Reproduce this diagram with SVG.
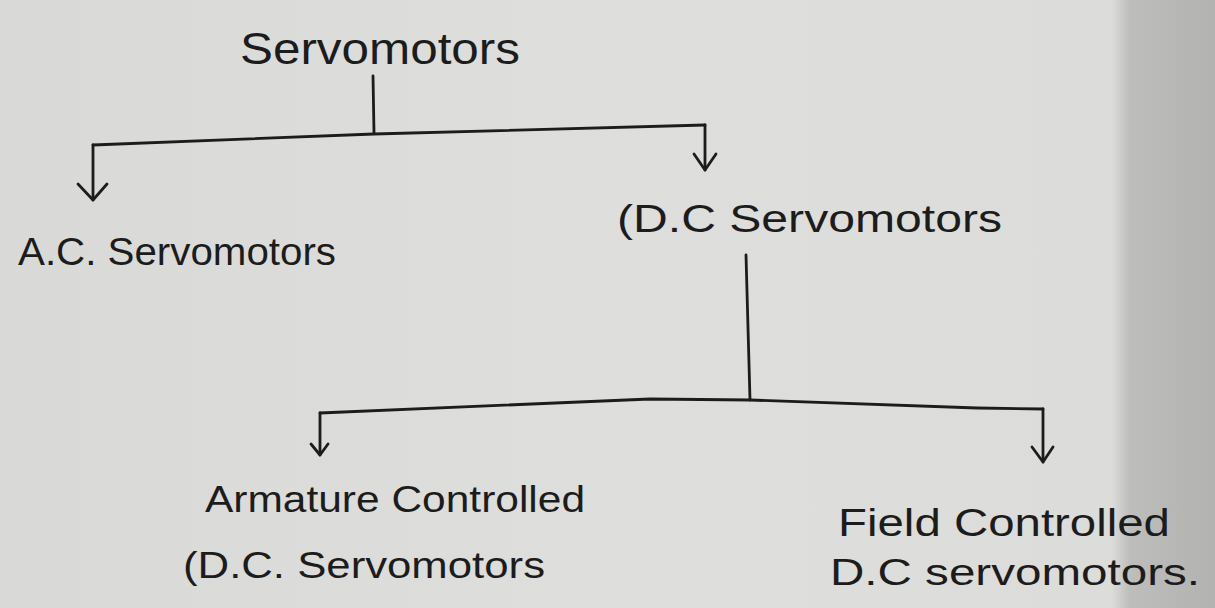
<svg xmlns="http://www.w3.org/2000/svg" width="1215" height="608" viewBox="0 0 1215 608">
<defs>
<linearGradient id="paper" x1="0" y1="0" x2="1" y2="0">
<stop offset="0" stop-color="#d9d9d7"/>
<stop offset="0.5" stop-color="#dededc"/>
<stop offset="0.915" stop-color="#dcdcda"/>
<stop offset="0.93" stop-color="#bdbdbb"/>
<stop offset="1" stop-color="#b2b2b0"/>
</linearGradient>
<marker id="arr" viewBox="0 0 20 20" refX="10" refY="18" markerWidth="20" markerHeight="20" markerUnits="userSpaceOnUse" orient="auto-start-reverse">
<path d="M1,8 L10,18 L19,8" fill="none" stroke="#1c1c1c" stroke-width="2.8" stroke-linecap="round" stroke-linejoin="round" transform="rotate(-90 10 10) rotate(90 10 10)"/>
</marker>
<style>
.t{font-family:"Liberation Sans","DejaVu Sans",sans-serif;fill:#1c1c1c;}
.c{fill:none;stroke:#1c1c1c;stroke-width:2.8;stroke-linecap:round;stroke-linejoin:round;}
</style>
</defs>
<rect width="1215" height="608" fill="url(#paper)"/>
<g id="connectors">
<path class="c" d="M373,76 L374,133"/>
<path class="c" d="M93,145 L374,134 L705,125"/>
<path class="c" d="M93,145 L93,200"/>
<path class="c" d="M78,184 L93,200 L107,184"/>
<path class="c" d="M705,125 L705,170"/>
<path class="c" d="M694,154 L705,170 L716,154"/>
<path class="c" d="M746,255 L750,400"/>
<path class="c" d="M320,413 L650,399 L750,400 L977,408 L1043,409"/>
<path class="c" d="M320,413 L320,455"/>
<path class="c" d="M311,444 L320,455 L328,444"/>
<path class="c" d="M1043,409 L1043,462"/>
<path class="c" d="M1032,447 L1043,462 L1053,447"/>
</g>
<g id="root"><text class="t" x="240" y="64" font-size="44" textLength="280" lengthAdjust="spacingAndGlyphs">Servomotors</text></g>
<g id="ac"><text class="t" x="18" y="265" font-size="38" textLength="318" lengthAdjust="spacingAndGlyphs">A.C. Servomotors</text></g>
<g id="dc"><text class="t" x="617" y="232" font-size="38" textLength="385" lengthAdjust="spacingAndGlyphs">(D.C Servomotors</text></g>
<g id="armature">
<text class="t" x="205" y="512" font-size="36" textLength="380" lengthAdjust="spacingAndGlyphs">Armature Controlled</text>
<text class="t" x="183" y="578" font-size="36" textLength="362" lengthAdjust="spacingAndGlyphs">(D.C. Servomotors</text>
</g>
<g id="field">
<text class="t" x="838" y="536" font-size="38" textLength="332" lengthAdjust="spacingAndGlyphs">Field Controlled</text>
<text class="t" x="830" y="585" font-size="36" textLength="370" lengthAdjust="spacingAndGlyphs">D.C servomotors.</text>
</g>
</svg>
